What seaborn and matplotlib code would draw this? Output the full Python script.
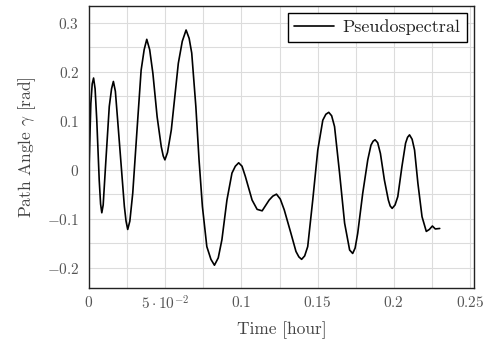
import matplotlib
matplotlib.use("Agg")
import matplotlib.pyplot as plt
import seaborn as sns
import pandas as pd

# Data
time_hour = [0.0, 0.0012, 0.0021, 0.0030, 0.0040, 0.0051, 0.0067, 0.0076, 0.0084,
             0.0093, 0.0111, 0.0133, 0.0148, 0.0160, 0.0173, 0.0188, 0.0210, 0.0232,
             0.0243, 0.0254, 0.0268, 0.0287, 0.0315, 0.0342, 0.0362, 0.0379, 0.0398,
             0.0419, 0.0447, 0.0474, 0.0487, 0.0498, 0.0515, 0.0540, 0.0586, 0.0612,
             0.0637, 0.0657, 0.0674, 0.0701, 0.0722, 0.0744, 0.0773, 0.0800, 0.0823,
             0.0848, 0.0872, 0.0905, 0.0938, 0.0960, 0.0982, 0.1004, 0.1026, 0.1070,
             0.1103, 0.1136, 0.1182, 0.1206, 0.1230, 0.1255, 0.1281, 0.1325, 0.1358,
             0.1377, 0.1395, 0.1415, 0.1435, 0.1468, 0.1501, 0.1534, 0.1554, 0.1573,
             0.1592, 0.1611, 0.1644, 0.1677, 0.1710, 0.1730, 0.1746, 0.1763, 0.1796,
             0.1829, 0.1850, 0.1864, 0.1877, 0.1894, 0.1912, 0.1938, 0.1964, 0.1976,
             0.1989, 0.2008, 0.2026, 0.2053, 0.2077, 0.2090, 0.2103, 0.2120, 0.2136,
             0.2158, 0.2185, 0.2213, 0.2233, 0.2253, 0.2272, 0.2301]
path_angle = [0.0, 0.135, 0.175, 0.187, 0.165, 0.101, -0.021, -0.070, -0.088,
              -0.072, 0.020, 0.129, 0.165, 0.180, 0.160, 0.101, 0.013, -0.075,
              -0.105, -0.122, -0.105, -0.048, 0.081, 0.203, 0.245, 0.266, 0.245,
              0.197, 0.108, 0.047, 0.028, 0.020, 0.035, 0.081, 0.217, 0.262,
              0.285, 0.268, 0.238, 0.129, 0.020, -0.075, -0.157, -0.183, -0.195,
              -0.180, -0.143, -0.062, -0.007, 0.007, 0.014, 0.007, -0.014, -0.062,
              -0.081, -0.084, -0.062, -0.054, -0.050, -0.060, -0.082, -0.130, -0.167,
              -0.178, -0.183, -0.176, -0.157, -0.062, 0.040, 0.101, 0.113, 0.117,
              0.110, 0.088, -0.007, -0.109, -0.164, -0.171, -0.160, -0.130, -0.048,
              0.020, 0.050, 0.058, 0.061, 0.055, 0.033, -0.021, -0.062, -0.074,
              -0.079, -0.072, -0.055, 0.006, 0.054, 0.066, 0.071, 0.062, 0.040,
              -0.028, -0.096, -0.126, -0.122, -0.115, -0.121, -0.120]
series_name = "Pseudospectral"

x_ticks = [0, 0.05, 0.1, 0.15, 0.2, 0.25]
x_tick_labels = ["$0$", r"$5\cdot10^{-2}$", "$0.1$", "$0.15$", "$0.2$", "$0.25$"]
y_ticks = [-0.2, -0.1, 0, 0.1, 0.2, 0.3]
y_tick_labels = ["$-0.2$", "$-0.1$", "$0$", "$0.1$", "$0.2$", "$0.3$"]

sns.set_theme(style="white")
plt.rcParams["font.family"] = ["cmr10", "DejaVu Serif"]
plt.rcParams["mathtext.fontset"] = "cm"
plt.rcParams["axes.formatter.use_mathtext"] = True

df = pd.DataFrame({"Time": time_hour, "Angle": path_angle, "Method": series_name})

fig = plt.figure(figsize=(4.86, 3.40), dpi=100)
ax = fig.add_axes([89 / 486, 1 - 288 / 340, (474 - 89) / 486, (288 - 6) / 340])

sns.lineplot(data=df, x="Time", y="Angle", hue="Method", palette=["black"],
             linewidth=1.2, ax=ax, sort=False, estimator=None)
for ln in ax.get_lines():
    ln.set_solid_joinstyle("round")

ax.set_xlim(0, 0.2526)
ax.set_ylim(-0.2415, 0.334)

ax.set_xticks(x_ticks)
ax.set_xticklabels(x_tick_labels)
ax.set_yticks(y_ticks)
ax.set_yticklabels(y_tick_labels)
ax.set_xticks([0.025, 0.075, 0.125, 0.175, 0.225], minor=True)
ax.set_yticks([-0.15, -0.05, 0.05, 0.15, 0.25], minor=True)
ax.grid(True, which="both", color="#dcdcdc", linewidth=0.8)
ax.set_axisbelow(True)
ax.tick_params(which="both", length=0, labelsize=11, colors="#555555")
ax.tick_params(axis="x", pad=5)
ax.tick_params(axis="y", pad=7)

for s in ax.spines.values():
    s.set_color("#222222")
    s.set_linewidth(1.0)

ax.set_xlabel("Time [hour]", fontsize=12.5, color="#444444", labelpad=6)
ax.set_ylabel(r"Path Angle $\gamma$ [rad]", fontsize=12.5, color="#444444", labelpad=6)

leg = ax.legend(loc="upper right", fontsize=13, frameon=True, fancybox=False,
                edgecolor="black", framealpha=1, handlelength=2.2,
                borderpad=0.35, handletextpad=0.5, borderaxespad=0.4)
leg.get_frame().set_linewidth(1.0)
for t in leg.get_texts():
    t.set_color("#222222")

fig.savefig("out.png", dpi=100)
